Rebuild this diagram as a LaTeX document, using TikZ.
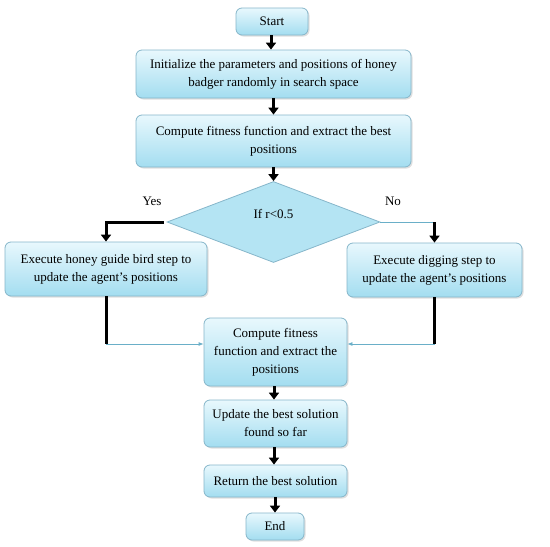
\documentclass[tikz,border=0pt]{standalone}
\usepackage{fontspec}
\setmainfont{Liberation Serif}
\usepackage{xcolor}
\usetikzlibrary{shapes.geometric,arrows.meta,positioning,calc,shadows}

\definecolor{boxtop}{HTML}{E8F8FD}
\definecolor{boxbot}{HTML}{A3DDF0}
\definecolor{boxline}{HTML}{86B6CA}
\definecolor{thinline}{HTML}{6AAFC8}

\begin{document}
\begin{tikzpicture}[
    x=1pt, y=-1pt,
    font=\fontsize{13}{18}\selectfont,
    box/.style={rectangle, rounded corners=6pt, draw=boxline, line width=0.8pt,
        top color=boxtop, bottom color=boxbot, align=center, inner sep=2pt,
        drop shadow={opacity=0.25, shadow xshift=1.5pt, shadow yshift=-1.5pt}},
    decide/.style={diamond, draw=boxline, line width=0.8pt, fill=boxbot!75!boxtop,
        inner sep=0pt},
    flow/.style={line width=3pt, black, -{Triangle[length=7pt, width=10pt]}},
    bar/.style={line width=3pt, black},
    feed/.style={thinline, line width=0.8pt, -{Latex[length=5pt, width=4pt]}}
]
    \useasboundingbox (0,0) rectangle (550,547);

    % Main column
    \node[box, minimum width=72pt, minimum height=27pt] (start) at (272,21.5) {Start};
    \node[box, minimum width=275pt, minimum height=48pt] (init) at (273.5,74)
        {Initialize the parameters and positions of honey\\badger randomly in search space};
    \node[box, minimum width=275pt, minimum height=52pt] (fit) at (273.5,141)
        {Compute fitness function and extract the best\\positions};
    \node[decide, minimum width=213pt, minimum height=81pt] (cond) at (273.5,222) {};
    \node (condtxt) at (273.5,214) {If r<0.5};

    % Branches
    \node[box, minimum width=202pt, minimum height=54pt] (guide) at (106,269)
        {Execute honey guide bird step to\\update the agent's positions};
    \node[box, minimum width=175pt, minimum height=54pt] (dig) at (434.5,270)
        {Execute digging step to\\update the agent's positions};
    \node (yes) at (152,201) {Yes};
    \node (no) at (393,201) {No};

    % Lower column
    \node[box, minimum width=143pt, minimum height=68pt] (fit2) at (275.5,352)
        {Compute fitness\\function and extract the\\positions};
    \node[box, minimum width=143pt, minimum height=47pt] (upd) at (275.5,423.5)
        {Update the best solution\\found so far};
    \node[box, minimum width=143pt, minimum height=32pt] (ret) at (275.5,481)
        {Return the best solution};
    \node[box, minimum width=58pt, minimum height=27pt] (stop) at (275,526.5) {End};

    % Straight arrows
    \draw[flow] ([xshift=-1pt]start.south) -- ([xshift=-1pt]start.south |- init.north);
    \draw[flow] (init) -- (fit);
    \draw[flow] (fit) -- (cond);
    \draw[flow] ([xshift=-1.5pt]fit2.south) -- ([xshift=-1.5pt]upd.north);
    \draw[flow] ([xshift=-1.5pt]upd.south) -- ([xshift=-1.5pt]ret.north);
    \draw[flow] (stop.north |- ret.south) -- (stop.north);

    % Yes / No split
    \draw[flow] ([xshift=-3pt]cond.west) -| (guide.north);
    \coordinate (nr) at (cond.east -| dig.north);
    \draw[thinline, line width=0.8pt] (cond.east) -- (nr);
    \draw[flow] (nr) -- (dig.north);

    % Merge into second fitness box
    \coordinate (jl) at ($(guide.south |- fit2.west)+(0,-8)$);
    \coordinate (jr) at ($(dig.south |- fit2.east)+(0,-8)$);
    \draw[bar] (guide.south) -- (jl);
    \draw[feed] (jl) -- (jl -| fit2.west);
    \draw[bar] (dig.south) -- (jr);
    \draw[feed] (jr) -- (jr -| fit2.east);

\end{tikzpicture}
\end{document}
